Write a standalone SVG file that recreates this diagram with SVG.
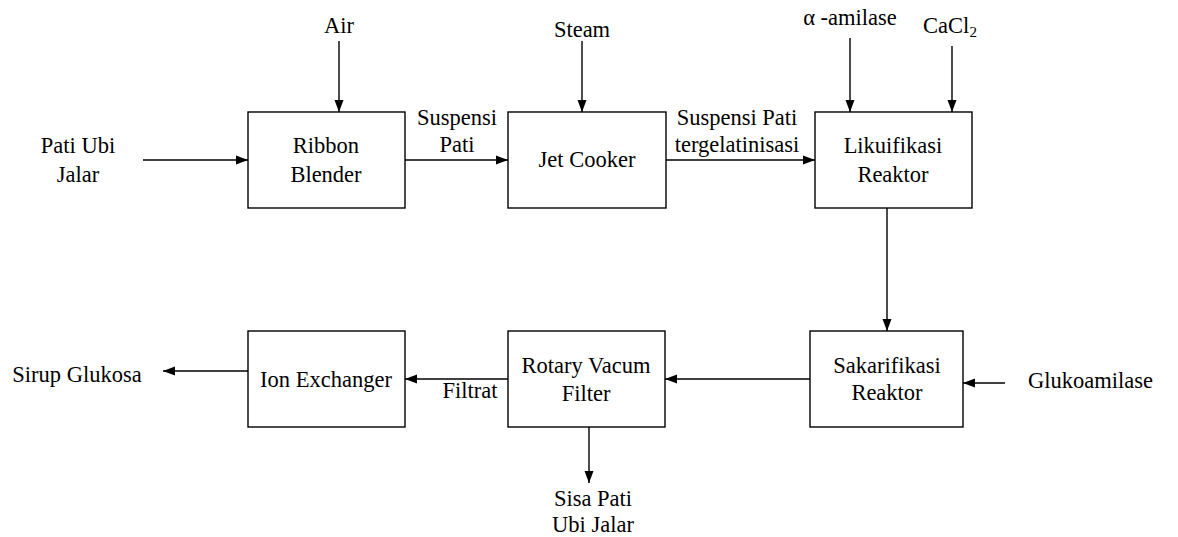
<svg xmlns="http://www.w3.org/2000/svg" width="1178" height="537" viewBox="0 0 1178 537" font-family="Liberation Serif, Times New Roman, serif">
<style>
.box{fill:#fff;stroke:#000;stroke-width:1.4}
.ln{fill:none;stroke:#000;stroke-width:1.4;marker-end:url(#ah)}
text{font-size:22.5px;fill:#000}
.c{text-anchor:middle}
</style>
<defs>
<marker id="ah" markerUnits="userSpaceOnUse" markerWidth="12" markerHeight="12" viewBox="0 0 12 12" refX="12" refY="6" orient="auto">
<path d="M0,1.5 L12,6 L0,10.5 Z" fill="#000"/>
</marker>
</defs>
<rect width="1178" height="537" fill="#fff"/>
<g id="connectors">
<line class="ln" x1="339" y1="41" x2="339" y2="112"/>
<line class="ln" x1="143" y1="160" x2="248" y2="160"/>
<line class="ln" x1="405" y1="160" x2="508" y2="160"/>
<line class="ln" x1="582" y1="41" x2="582" y2="112"/>
<line class="ln" x1="666" y1="160" x2="815" y2="160"/>
<line class="ln" x1="850" y1="38" x2="850" y2="112"/>
<line class="ln" x1="952" y1="46" x2="952" y2="112"/>
<line class="ln" x1="887" y1="208" x2="887" y2="331"/>
<line class="ln" x1="1005" y1="383" x2="963" y2="383"/>
<line class="ln" x1="810" y1="379" x2="665" y2="379"/>
<line class="ln" x1="508" y1="379" x2="405" y2="379"/>
<line class="ln" x1="248" y1="371" x2="163" y2="371"/>
<line class="ln" x1="589" y1="427" x2="589" y2="483"/>
</g>
<g id="labels">
<text class="c" x="339" y="33">Air</text>
<text class="c" x="78" y="153">Pati Ubi</text>
<text class="c" x="78" y="182">Jalar</text>
<text class="c" x="582" y="37">Steam</text>
<text class="c" x="457" y="125">Suspensi</text>
<text class="c" x="457" y="152">Pati</text>
<text class="c" x="737" y="125">Suspensi Pati</text>
<text class="c" x="737" y="152">tergelatinisasi</text>
<text class="c" x="850" y="25">α -amilase</text>
<text class="c" x="950" y="33">CaCl<tspan font-size="15" dy="4">2</tspan></text>
<text x="1028" y="388">Glukoamilase</text>
<text class="c" x="470" y="398">Filtrat</text>
<text class="c" x="77" y="382">Sirup Glukosa</text>
<text class="c" x="593" y="506">Sisa Pati</text>
<text class="c" x="593" y="532">Ubi Jalar</text>
</g>
<g id="ribbon-blender">
<rect class="box" x="248" y="112" width="157" height="96"/>
<text class="c" x="326" y="153">Ribbon</text>
<text class="c" x="326" y="182">Blender</text>
</g>
<g id="jet-cooker">
<rect class="box" x="508" y="112" width="158" height="96"/>
<text class="c" x="587" y="167">Jet Cooker</text>
</g>
<g id="likuifikasi-reaktor">
<rect class="box" x="815" y="112" width="157" height="96"/>
<text class="c" x="893" y="153">Likuifikasi</text>
<text class="c" x="893" y="182">Reaktor</text>
</g>
<g id="sakarifikasi-reaktor">
<rect class="box" x="810" y="331" width="153" height="96"/>
<text class="c" x="887" y="373">Sakarifikasi</text>
<text class="c" x="887" y="400">Reaktor</text>
</g>
<g id="rotary-vacum-filter">
<rect class="box" x="508" y="331" width="157" height="96"/>
<text class="c" x="586" y="373">Rotary Vacum</text>
<text class="c" x="586" y="401">Filter</text>
</g>
<g id="ion-exchanger">
<rect class="box" x="248" y="331" width="157" height="96"/>
<text class="c" x="326" y="387">Ion Exchanger</text>
</g>
</svg>
